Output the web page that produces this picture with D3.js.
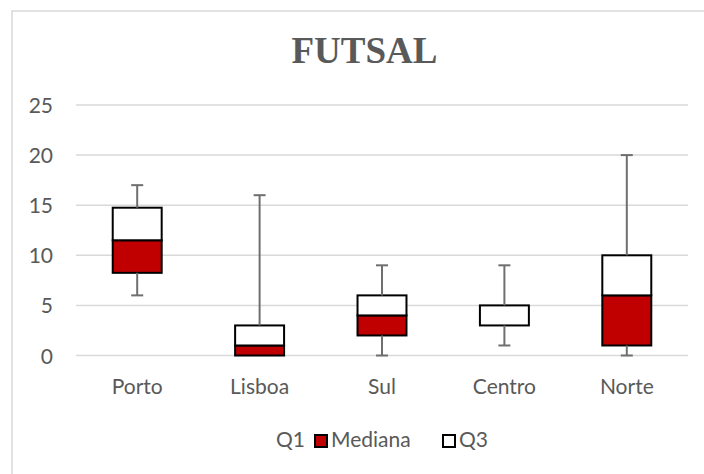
<!DOCTYPE html>
<html>
<head>
<meta charset="utf-8">
<script src="https://cdn.jsdelivr.net/npm/d3@7"></script>
<style>
  html, body { margin: 0; padding: 0; background: #fff; }
  svg { display: block; }
</style>
</head>
<body>
<svg id="chart" width="704" height="474"></svg>
<script>
// Box-plot summary per region (FUTSAL)
const categories = ["Porto", "Lisboa", "Sul", "Centro", "Norte"];
const q1Values     = [8.25, 0, 2, 3, 1];
const medianValues = [11.5, 1, 4, 3, 6];
const q3Values     = [14.75, 3, 6, 5, 10];
const minValues    = [6, 0, 0, 1, 0];
const maxValues    = [17, 16, 9, 9, 20];
const yTicks       = [0, 5, 10, 15, 20, 25];
const legendLabels = ["Q1", "Mediana", "Q3"];

const svg = d3.select("#chart");
const W = 704, H = 474;
const plot = { left: 76, right: 688, top: 105, bottom: 355.5 };
const textColor = "#595959";
const sans = "Lato, 'Open Sans', sans-serif";
const fontSize = 21;

// chart area frame
svg.append("rect")
  .attr("x", 12).attr("y", 11)
  .attr("width", W).attr("height", H)
  .attr("fill", "#fff")
  .attr("stroke", "#d9d9d9").attr("stroke-width", 1.5);

// title
svg.append("text")
  .attr("x", 364.5).attr("y", 63)
  .attr("text-anchor", "middle")
  .attr("font-family", "'Liberation Serif', 'Times New Roman', serif")
  .attr("font-weight", "bold")
  .attr("font-size", 37)
  .attr("fill", textColor)
  .text("FUTSAL");

const x = d3.scaleBand()
  .domain(categories)
  .range([plot.left, plot.right])
  .paddingInner(0.6).paddingOuter(0.3);

const y = d3.scaleLinear()
  .domain([0, 25])
  .range([plot.bottom, plot.top]);

// horizontal gridlines
svg.append("g")
  .selectAll("line")
  .data(yTicks)
  .join("line")
  .attr("x1", plot.left).attr("x2", plot.right)
  .attr("y1", d => y(d)).attr("y2", d => y(d))
  .attr("stroke", "#d9d9d9").attr("stroke-width", 1.5);

// y axis labels
const yAxis = d3.axisLeft(y).tickValues(yTicks).tickSize(0).tickPadding(0);
const gy = svg.append("g")
  .attr("transform", `translate(53,0)`)
  .call(yAxis);
gy.select(".domain").remove();
gy.selectAll("text")
  .attr("font-family", sans)
  .attr("font-size", fontSize)
  .attr("fill", textColor)
  .attr("dy", "0.36em");

// x axis labels
const xAxis = d3.axisBottom(x).tickSize(0).tickPadding(0);
const gx = svg.append("g")
  .attr("transform", `translate(0,${plot.bottom})`)
  .call(xAxis);
gx.select(".domain").remove();
gx.selectAll("text")
  .attr("font-family", sans)
  .attr("font-size", fontSize)
  .attr("fill", textColor)
  .attr("dy", 0)
  .attr("y", 38);

// stacked segments: Q1 (hidden), median-Q1 (red), Q3-median (white)
const rows = categories.map((c, i) => ({
  cat: c,
  Q1: q1Values[i],
  Mediana: medianValues[i] - q1Values[i],
  Q3: q3Values[i] - medianValues[i]
}));
const stack = d3.stack().keys(legendLabels)(rows);
const fills = { Q1: "none", Mediana: "#c00000", Q3: "#ffffff" };

stack.forEach(layer => {
  if (layer.key === "Q1") return;
  svg.append("g")
    .selectAll("rect")
    .data(layer.filter(d => d[1] - d[0] > 0))
    .join("rect")
    .attr("x", d => x(d.data.cat))
    .attr("width", x.bandwidth())
    .attr("y", d => y(d[1]))
    .attr("height", d => y(d[0]) - y(d[1]))
    .attr("fill", fills[layer.key])
    .attr("stroke", "#000")
    .attr("stroke-width", 2);
});

// whiskers
const whiskerColor = "#6f6f6f";
const capHalf = 6;
const wg = svg.append("g")
  .attr("stroke", whiskerColor).attr("stroke-width", 2);
categories.forEach((c, i) => {
  const cx = x(c) + x.bandwidth() / 2;
  // upper whisker
  wg.append("line")
    .attr("x1", cx).attr("x2", cx)
    .attr("y1", y(q3Values[i])).attr("y2", y(maxValues[i]));
  wg.append("line")
    .attr("x1", cx - capHalf).attr("x2", cx + capHalf)
    .attr("y1", y(maxValues[i])).attr("y2", y(maxValues[i]));
  // lower whisker
  if (q1Values[i] > minValues[i]) {
    wg.append("line")
      .attr("x1", cx).attr("x2", cx)
      .attr("y1", y(q1Values[i])).attr("y2", y(minValues[i]));
    wg.append("line")
      .attr("x1", cx - capHalf).attr("x2", cx + capHalf)
      .attr("y1", y(minValues[i])).attr("y2", y(minValues[i]));
  }
});

// legend
const legend = svg.append("g").attr("font-family", sans).attr("font-size", fontSize).attr("fill", textColor);
// Q1 has no visible swatch; its label ends just before the next entry
legend.append("text")
  .attr("x", 305).attr("y", 447)
  .attr("text-anchor", "end")
  .text(legendLabels[0]);
const swatchItems = [
  { label: legendLabels[1], fill: "#c00000", x: 315 },
  { label: legendLabels[2], fill: "#ffffff", x: 443 }
];
swatchItems.forEach(item => {
  legend.append("rect")
    .attr("x", item.x).attr("y", 435)
    .attr("width", 12).attr("height", 12)
    .attr("fill", item.fill)
    .attr("stroke", "#000").attr("stroke-width", 2);
  legend.append("text")
    .attr("x", item.x + 16).attr("y", 447)
    .text(item.label);
});
</script>
</body>
</html>
